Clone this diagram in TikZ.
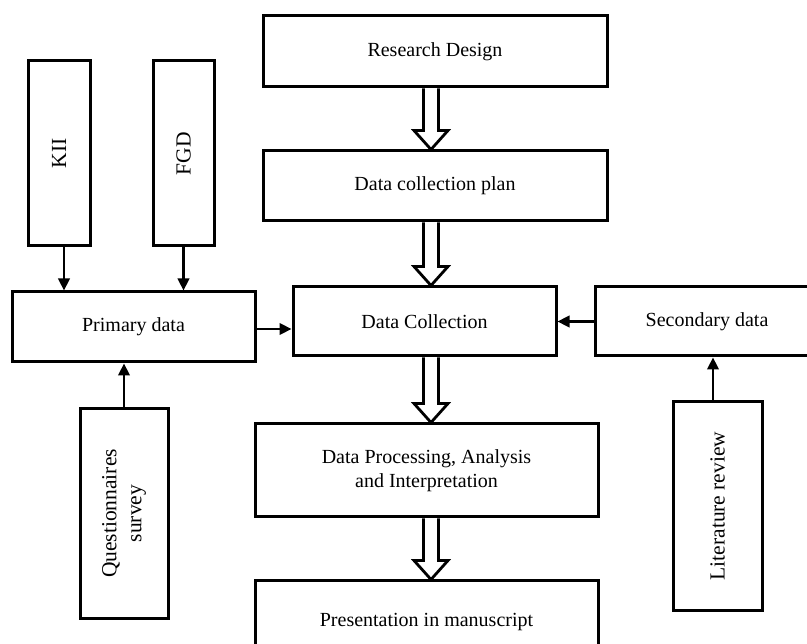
\documentclass[tikz,border=0pt]{standalone}
\usepackage{fontspec}
\setmainfont{Liberation Serif}
\usetikzlibrary{positioning, arrows.meta, calc}
\tikzset{
  box/.style    = {rectangle, draw=black, line width=3pt, fill=white,
                   align=center, inner sep=2pt,
                   font=\fontsize{20}{24}\selectfont},
  vbox/.style   = {box, rotate=90, font=\fontsize{21.5}{25}\selectfont},
  arr/.style    = {-{Triangle[length=12pt,width=11.5pt]}, line width=2.4pt},
  hollow/.style = {line width=2.8pt, draw=black, fill=white, line join=miter},
}
% hollow block arrow from the bottom of #1 to the top of #2, on the spine
\newcommand{\hollowarr}[2]{%
  \filldraw[hollow] ($(spine |- #1.south)+(-7.5,0)$)
    -- ($(spine |- #2.north)+(-7.5,-19)$) -- ($(spine |- #2.north)+(-17,-19)$)
    -- (spine |- #2.north)
    -- ($(spine |- #2.north)+(17,-19)$) -- ($(spine |- #2.north)+(7.5,-19)$)
    -- ($(spine |- #1.south)+(7.5,0)$);}

\begin{document}
\begin{tikzpicture}[x=1pt, y=-1pt]

  \path[use as bounding box, fill=white] (0,0) rectangle (807,644);
  \clip (0,0) rectangle (807,644);

  % ----- main column -----
  \node[box, minimum width=344pt, minimum height=71pt] (rd) at (435,51.5) {Research Design};
  \node[box, minimum width=344pt, minimum height=70pt] (plan) at (435,186) {Data collection plan};
  \node[box, minimum width=263pt, minimum height=69pt] (dcol) at (424.5,321.5) {Data Collection};
  \node[box, minimum width=343pt, minimum height=93pt] (proc) at (426.5,470.5)
       {Data Processing, Analysis\\and Interpretation};
  \node[box, minimum width=343pt, minimum height=82pt] (pres) at (426.5,622) {Presentation in manuscript};

  \coordinate (spine) at (431,0);
  \hollowarr{rd}{plan}
  \hollowarr{plan}{dcol}
  \hollowarr{dcol}{proc}
  \hollowarr{proc}{pres}

  % ----- primary side (rotated boxes: west = bottom, east = top) -----
  \node[box, minimum width=243pt, minimum height=70pt] (prim) at (133.5,327) {Primary data};
  \node[vbox, minimum width=185pt, minimum height=62pt] (kii) at (59,153.5) {KII};
  \node[vbox, minimum width=185pt, minimum height=61pt] (fgd) at (183.5,153.5) {FGD};
  \node[vbox, minimum width=209pt, minimum height=88pt] (quest) at (124,513.5)
       {Questionnaires\\survey};

  \draw[arr] ([xshift=5pt]kii.west) -- ([xshift=5pt]kii.west |- prim.north);
  \draw[arr] (fgd.west) -- (fgd.west |- prim.north);
  \draw[arr] (quest.east) -- (quest.east |- prim.south);
  \draw[arr] ([yshift=-2pt]prim.east) -- ([yshift=-2pt]prim.east -| dcol.west);

  % ----- secondary side -----
  \node[box, minimum width=224pt, minimum height=69pt] (sec) at (707,321.5) {Secondary data};
  \node[vbox, minimum width=208pt, minimum height=89pt] (lit) at (717.5,506) {Literature review};

  \draw[arr] ([xshift=-4.5pt]lit.east) -- ([xshift=-4.5pt]lit.east |- sec.south);
  \draw[arr] (sec.west) -- (sec.west -| dcol.east);

\end{tikzpicture}
\end{document}
